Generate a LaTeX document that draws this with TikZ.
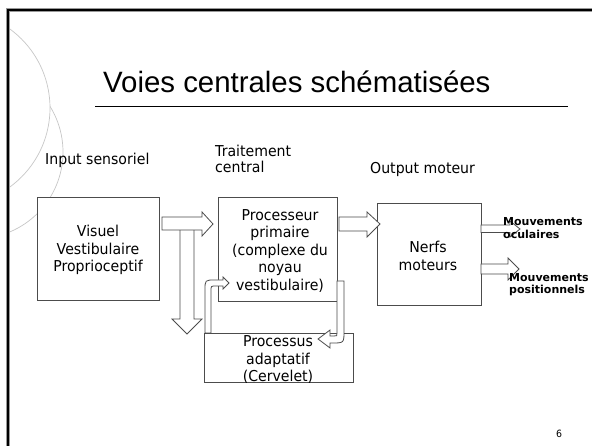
\documentclass[tikz,border=0pt]{standalone}
\usepackage{fontspec}
\setmainfont{DejaVu Sans}[FakeStretch=0.94]
\newfontfamily\titlefont{Liberation Sans}
\newfontfamily\mvfont{DejaVu Sans}
\tikzset{
  circ/.style={draw=black!22, line width=0.7},
  box/.style={draw=black!70, line width=0.8, fill=white, inner sep=0, outer sep=0},
  txt/.style={align=center, font=\fontsize{15}{17.5}\selectfont, inner sep=0},
  lbl/.style={font=\fontsize{15}{16}\selectfont, inner sep=0, align=left},
  mv/.style={font=\mvfont\bfseries\fontsize{11}{12.5}\selectfont, align=left, inner sep=0},
  barrow/.style={draw=black!70, line width=0.8, fill=white, line join=miter}
}
\begin{document}
\begin{tikzpicture}[x=1pt,y=-1pt]
\useasboundingbox (0,0) rectangle (592,446);
\fill[white] (0,0) rectangle (592,446);
% background circles
\begin{scope}
\clip (8,10) rectangle (592,446);
\draw[circ] (-23.6,152) circle[radius=86.6pt];
\filldraw[circ, fill=white] (-47.8,108) circle[radius=97.8pt];
\end{scope}
% frame
\draw[line width=4, black!40] (8,446) -- (8,10) -- (592,10);
\draw[line width=2.7, black] (8,446) -- (8,10) -- (592,10);
% title
\node[anchor=base west, font=\titlefont\fontsize{29.4}{32}\selectfont, inner sep=0] (title) at (103,93) {Voies centrales schématisées};
\coordinate (ulA) at (95,107);
\coordinate (ulB) at (568,107);
\draw[line width=1] (ulA) -- (ulB);
% column labels
\node[lbl, anchor=base west] (inp) at (45,165) {Input sensoriel};
\node[lbl, anchor=base west] (trait) at (215,173) {Traitement\\central};
\node[lbl, anchor=base west] (outp) at (370,174) {Output moteur};
% arrow B (down)
\draw[barrow] (180,228) -- (180,319) -- (172,319) -- (187,334) -- (202,319) -- (194,319) -- (194,228) -- cycle;
% boxes
\node[box, minimum width=122, minimum height=103] (vis) at (98,248.5) {};
\node[box, minimum width=119, minimum height=104] (proc) at (277.5,249) {};
\node[box, minimum width=104, minimum height=102] (nerf) at (429,254) {};
\node[box, minimum width=149, minimum height=49] (adapt) at (278.5,357.5) {};
% arrow A
\draw[barrow] (162,217) -- (202,217) -- (202,212) -- (213,224) -- (202,236) -- (202,230) -- (162,230) -- cycle;
% arrow C
\draw[barrow] (339,217) -- (367,217) -- (367,212) -- (380,224) -- (367,237) -- (367,231) -- (339,231) -- cycle;
% arrows D and E
\draw[barrow] (481,225) -- (510,225) -- (510,221) -- (520,229) -- (510,237) -- (510,232.5) -- (481,232.5) -- cycle;
\draw[barrow] (481,264) -- (508,264) -- (508,258) -- (519,269) -- (508,280) -- (508,274) -- (481,274) -- cycle;
% curved arrow from adaptive process up to primary processor
\draw[barrow] (205,333) -- (205,290) .. controls (205,280) .. (215,280) -- (223,280) -- (223,277) -- (229,283) -- (223,289) -- (223,286) -- (216,286) .. controls (211,286) .. (211,291) -- (211,333) -- cycle;
% curved arrow from primary processor down to adaptive process
\draw[barrow] (337,281) -- (344,281) -- (344,331) .. controls (344,343) .. (332,343) -- (330,343) -- (330,348) -- (318,339) -- (330,330) -- (330,336) -- (334,336) .. controls (337,336) .. (337,333) -- cycle;
% box texts
\node[txt] (vist) at (98,250) {Visuel\\Vestibulaire\\Proprioceptif};
\node[txt] (proct) at (280,251) {Processeur\\primaire\\(complexe du\\noyau\\vestibulaire)};
\node[txt] (adaptt) at (278,360) {Processus\\adaptatif\\(Cervelet)};
\node[txt] (nerft) at (428,256) {Nerfs\\moteurs};
% output labels
\node[mv, anchor=base west] (mo) at (503,238.5) {Mouvements\\oculaires};
\node[mv, anchor=base west] (mp) at (509,294) {Mouvements\\positionnels};
% page number
\node[font=\fontsize{10}{12}\selectfont, inner sep=0] (pg) at (559,434) {6};
\end{tikzpicture}
\end{document}
